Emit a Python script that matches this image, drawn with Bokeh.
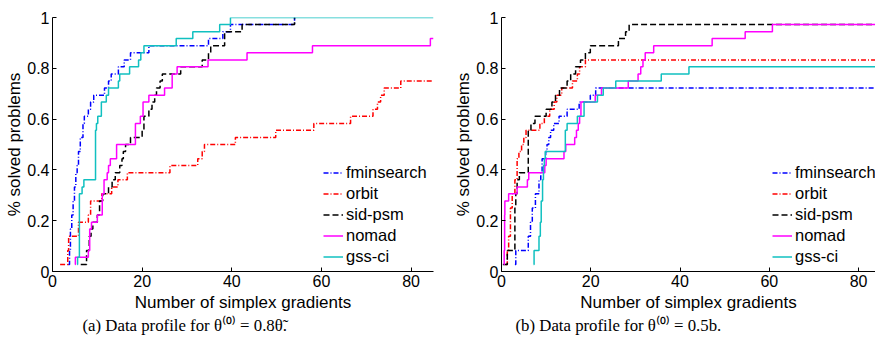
from bokeh.plotting import figure
from bokeh.layouts import row
from bokeh.models import Title
from bokeh.embed import file_html
from bokeh.resources import INLINE

# ---------------- data: (a) theta0 = 0.8 theta~ ----------------
names = ["fminsearch", "orbit", "sid-psm", "nomad", "gss-ci"]

a_fmin_x = [3.5, 3.8, 4.0, 4.3, 4.6, 4.9, 5.2, 5.5, 5.8, 6.2, 6.8, 7.1, 8.0, 8.5, 9.2, 11.6, 12.5, 13.1, 14.7, 16.0, 17.4, 21.5, 34.8, 38.0, 39.7, 54.0]
a_fmin_y = [0.028, 0.083, 0.167, 0.222, 0.278, 0.333, 0.389, 0.417, 0.472, 0.528, 0.583, 0.611, 0.639, 0.667, 0.694, 0.722, 0.750, 0.778, 0.806, 0.833, 0.861, 0.889, 0.917, 0.944, 0.972, 1.0]

a_orbit_x = [1.7, 3.4, 3.6, 5.8, 8.0, 8.5, 11.0, 13.2, 14.6, 16.7, 26.2, 32.4, 33.4, 33.9, 40.8, 49.8, 58.3, 66.5, 71.5, 72.5, 73.2, 74.0, 77.7, 85]
a_orbit_y = [0.028, 0.083, 0.139, 0.194, 0.222, 0.278, 0.306, 0.333, 0.361, 0.389, 0.417, 0.444, 0.472, 0.5, 0.528, 0.556, 0.583, 0.611, 0.639, 0.667, 0.694, 0.722, 0.75, 0.75]

a_sid_x = [6.3, 7.6, 8.2, 8.6, 9.0, 10.0, 10.5, 11.2, 12.5, 13.3, 14.0, 15.0, 15.5, 15.8, 16.3, 17.4, 20.0, 20.4, 21.5, 22.2, 22.8, 23.2, 24.0, 24.5, 28.6, 33.4, 34.8, 35.3, 38.4, 42.3, 54.0]
a_sid_y = [0.028, 0.083, 0.139, 0.167, 0.194, 0.222, 0.278, 0.306, 0.333, 0.361, 0.389, 0.417, 0.444, 0.472, 0.5, 0.528, 0.556, 0.611, 0.639, 0.667, 0.694, 0.722, 0.75, 0.778, 0.806, 0.833, 0.861, 0.889, 0.944, 0.972, 1.0]

a_nomad_x = [5.0, 5.1, 8.0, 8.3, 8.7, 10.0, 11.1, 11.5, 12.2, 12.5, 12.9, 14.3, 18.5, 19.6, 20.2, 21.5, 25.0, 26.7, 27.8, 34.7, 43.4, 58.0, 84.3, 85]
a_nomad_y = [0.028, 0.056, 0.083, 0.167, 0.194, 0.222, 0.306, 0.361, 0.389, 0.417, 0.444, 0.5, 0.583, 0.611, 0.667, 0.694, 0.722, 0.778, 0.806, 0.833, 0.861, 0.889, 0.917, 0.917]

a_gss_x = [5.5, 5.6, 6.0, 6.6, 7.0, 9.6, 9.8, 10.1, 10.9, 12.0, 12.5, 14.7, 15.0, 17.2, 19.2, 19.7, 20.4, 27.6, 31.3, 37.3, 39.7, 85]
a_gss_y = [0.028, 0.056, 0.306, 0.333, 0.361, 0.556, 0.583, 0.611, 0.667, 0.694, 0.722, 0.75, 0.778, 0.806, 0.833, 0.861, 0.889, 0.917, 0.944, 0.972, 1.0, 1.0]

# ---------------- data: (b) theta0 = 0.5 b ----------------
b_fmin_x = [3.0, 3.2, 6.0, 6.5, 6.9, 7.6, 8.4, 8.8, 9.1, 9.9, 10.2, 10.6, 11.0, 11.7, 12.9, 14.7, 17.4, 19.9, 21.1, 85]
b_fmin_y = [0.028, 0.083, 0.139, 0.194, 0.25, 0.306, 0.361, 0.389, 0.444, 0.472, 0.5, 0.528, 0.556, 0.583, 0.611, 0.639, 0.667, 0.694, 0.722, 0.722]

b_orbit_x = [0.9, 1.3, 1.6, 2.0, 2.4, 3.0, 3.5, 3.9, 4.5, 5.0, 5.5, 8.6, 9.6, 10.8, 11.8, 12.4, 13.5, 15.9, 17.0, 17.5, 18.8, 85]
b_orbit_y = [0.028, 0.083, 0.139, 0.25, 0.306, 0.361, 0.444, 0.472, 0.5, 0.528, 0.556, 0.583, 0.611, 0.639, 0.667, 0.694, 0.722, 0.75, 0.778, 0.806, 0.833, 0.833]

b_sid_x = [0.3, 1.3, 3.0, 3.2, 3.5, 4.0, 6.0, 6.6, 7.5, 10.0, 11.3, 12.1, 13.0, 14.7, 15.5, 16.6, 17.7, 18.8, 19.9, 26.2, 27.8, 28.6, 85]
b_sid_y = [0.028, 0.083, 0.25, 0.306, 0.361, 0.389, 0.556, 0.583, 0.611, 0.639, 0.667, 0.694, 0.722, 0.75, 0.778, 0.806, 0.833, 0.861, 0.889, 0.917, 0.944, 0.972, 0.972]

b_nomad_x = [0.5, 0.6, 0.7, 0.75, 1.6, 3.5, 5.8, 6.1, 9.7, 10.0, 14.0, 14.4, 16.4, 16.8, 17.2, 17.5, 17.8, 21.0, 22.4, 28.4, 30.6, 31.2, 31.7, 32.2, 34.1, 47.2, 54.6, 60.7, 85]
b_nomad_y = [0.028, 0.083, 0.222, 0.278, 0.306, 0.333, 0.361, 0.389, 0.417, 0.444, 0.472, 0.5, 0.528, 0.556, 0.583, 0.611, 0.667, 0.694, 0.722, 0.75, 0.778, 0.806, 0.833, 0.861, 0.889, 0.917, 0.944, 0.972, 0.972]

b_gss_x = [7.2, 7.3, 8.4, 8.7, 8.9, 9.2, 9.4, 9.6, 9.8, 14.3, 14.7, 17.0, 18.5, 21.5, 22.8, 25.6, 35.8, 42.0, 85]
b_gss_y = [0.028, 0.083, 0.139, 0.194, 0.278, 0.361, 0.417, 0.444, 0.472, 0.556, 0.583, 0.611, 0.667, 0.694, 0.722, 0.75, 0.778, 0.806, 0.806]

x_ticks = [0, 20, 40, 60, 80]
y_ticks = [0, 0.2, 0.4, 0.6, 0.8, 1]
y_tick_labels = {0: "0", 0.2: "0.2", 0.4: "0.4", 0.6: "0.6", 0.8: "0.8", 1: "1"}

colors = ["#0000ff", "#ff0000", "#000000", "#ff00ff", "#10c0c0"]
dashes = ["5 2 1 2", "5 2 1 2", "6 3", "solid", "solid"]

FONT = "Liberation Sans"


def make_plot(series, width, left_border, right_border, x_end, caption, cap_offset):
    p = figure(width=width, height=345, x_range=(0, x_end), y_range=(0, 1),
               output_backend="svg", toolbar_location=None,
               min_border_left=left_border, min_border_right=right_border,
               min_border_top=17, min_border_bottom=74)
    p.outline_line_color = None
    p.xgrid.grid_line_color = None
    p.ygrid.grid_line_color = None
    p.background_fill_color = "white"
    p.border_fill_color = "white"

    for (xs, ys), name, c, d in zip(series, names, colors, dashes):
        p.step(xs, ys, mode="after", line_color=c, line_width=1.5,
               line_dash=d, legend_label=name)

    for ax in (p.xaxis[0], p.yaxis[0]):
        ax.major_tick_in = 4
        ax.major_tick_out = 0
        ax.minor_tick_line_color = None
        ax.axis_line_color = "black"
        ax.major_tick_line_color = "black"
        ax.major_label_text_font = FONT
        ax.major_label_text_font_size = "16px"
        ax.major_label_text_color = "black"
        ax.axis_label_text_font = FONT
        ax.axis_label_text_font_size = "17px"
        ax.axis_label_text_font_style = "normal"
        ax.axis_label_text_color = "black"

    p.xaxis.ticker = x_ticks
    p.yaxis.ticker = y_ticks
    p.yaxis.major_label_overrides = y_tick_labels
    p.xaxis.axis_label = "Number of simplex gradients"
    p.yaxis.axis_label = "% solved problems"
    p.xaxis.major_label_standoff = 3
    p.xaxis.axis_label_standoff = 3
    p.yaxis.major_label_standoff = 3
    p.yaxis.axis_label_standoff = 0

    lg = p.legend[0]
    lg.location = (271, 4)
    lg.border_line_color = None
    lg.background_fill_alpha = 0
    lg.padding = 0
    lg.margin = 0
    lg.spacing = 0
    lg.glyph_width = 20
    lg.glyph_height = 21
    lg.label_height = 21
    lg.label_standoff = 3
    lg.label_text_font = FONT
    lg.label_text_font_size = "16.5px"
    lg.label_text_color = "black"

    t = Title(text=caption, align="left", offset=cap_offset,
              text_font="Liberation Serif", text_font_size="16.8px",
              text_font_style="normal", text_color="black", standoff=-1)
    p.add_layout(t, "below")
    return p


series_a = [(a_fmin_x, a_fmin_y), (a_orbit_x, a_orbit_y), (a_sid_x, a_sid_y),
            (a_nomad_x, a_nomad_y), (a_gss_x, a_gss_y)]
series_b = [(b_fmin_x, b_fmin_y), (b_orbit_x, b_orbit_y), (b_sid_x, b_sid_y),
            (b_nomad_x, b_nomad_y), (b_gss_x, b_gss_y)]

pa = make_plot(series_a, 440, 52, 7, 85, "(a)  Data profile for θ⁽⁰⁾ = 0.8θ̃.", 30)
pb = make_plot(series_b, 435, 61, 0, 83.8, "(b)  Data profile for θ⁽⁰⁾ = 0.5b.", 14)

layout = row(pa, pb)
open("out.html", "w").write(file_html(layout, INLINE))
